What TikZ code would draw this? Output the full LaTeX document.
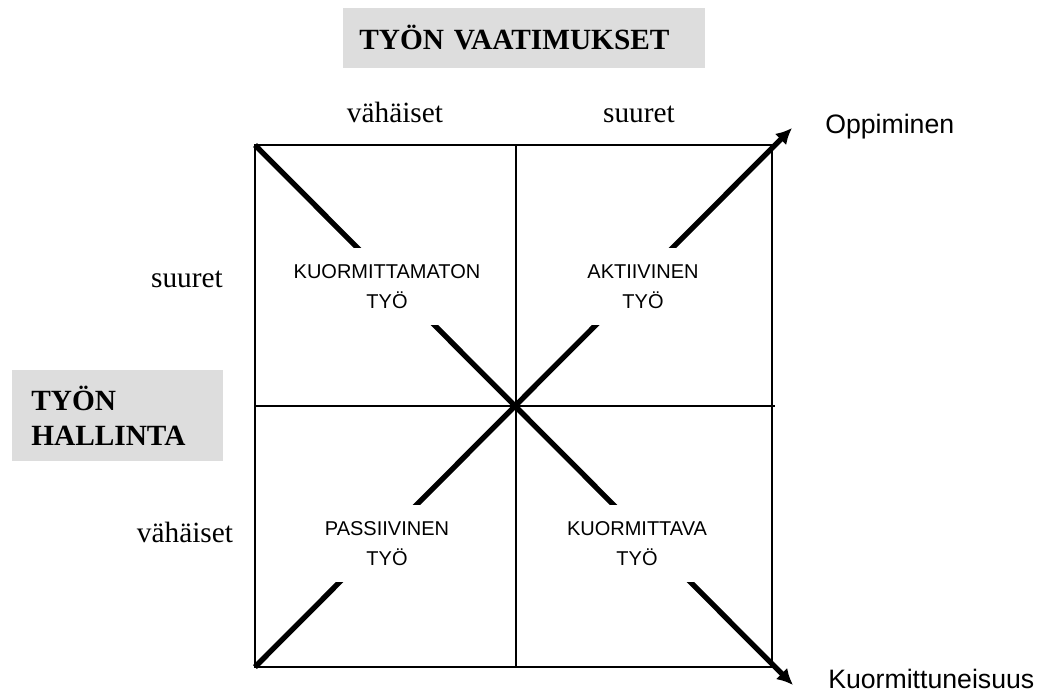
\documentclass[tikz,border=0pt]{standalone}
\usepackage{fontspec}
\setmainfont{Liberation Serif}
\newfontfamily\arialfont{Liberation Sans}
\usetikzlibrary{arrows.meta}
\definecolor{boxgray}{RGB}{221,221,221}

\tikzset{
  frame/.style={line width=1.4pt},
  diag/.style={line width=4pt, -{Latex[length=12pt,width=12pt]}},
  quad/.style={fill=white, align=center, inner xsep=3pt, inner ysep=0pt,
    minimum height=57.75pt, font=\arialfont\fontsize{15}{22.5}\selectfont},
  level/.style={anchor=base, inner sep=0pt, font=\fontsize{22}{26.4}\selectfont},
  titlebox/.style={fill=boxgray, align=left, anchor=west,
    font=\bfseries\fontsize{22}{26.4}\selectfont},
  outcome/.style={anchor=base west, inner sep=0pt,
    font=\arialfont\fontsize{20}{24}\selectfont}
}

\begin{document}
\begin{tikzpicture}[x=0.75pt,y=-0.75pt]
    \useasboundingbox (0,0) rectangle (1048,694);

    % corners of the square
    \coordinate (tl) at (255,145);
    \coordinate (br) at (772,667);
    \coordinate (bl) at (255,667);

    % middle lines
    \coordinate (tm) at (516,145);
    \coordinate (bm) at (516,667);
    \coordinate (ml) at (255,406);
    \coordinate (mr) at (775,406);

    % arrow ends
    \coordinate (opp) at (792,128);
    \coordinate (kuo) at (793,685);

    % Lines
    \draw[frame] (tl) rectangle (br);
    \draw[frame] (tm) -- (bm);
    \draw[frame] (ml) -- (mr);
    \draw[diag] (tl) -- (kuo);
    \draw[diag] (bl) -- (opp);

    % Quadrants
    \node[quad] (kmt) at (387,286.5) {KUORMITTAMATON\\TYÖ};
    \node[quad] (akt) at (643,286.5) {AKTIIVINEN\\TYÖ};
    \node[quad] (pas) at (387,543.5) {PASSIIVINEN\\TYÖ};
    \node[quad] (kva) at (637,543.5) {KUORMITTAVA\\TYÖ};

    % Levels
    \node[level] (vaha1) at (395,122) {vähäiset};
    \node[level] (suur1) at (639,122) {suuret};
    \node[level] (suur2) at (187,287) {suuret};
    \node[level] (vaha2) at (185,542) {vähäiset};

    % Titles
    \node[titlebox, text width=247.5pt, inner xsep=12pt, minimum height=45pt]
        (vaat) at (343,38) {TYÖN VAATIMUKSET};
    \node[titlebox, text width=129.75pt, inner xsep=14.25pt, minimum height=68.25pt]
        (hall) at (12,415.5) {TYÖN\\HALLINTA};

    % Outcomes
    \node[outcome] (oppl) at (825,133) {Oppiminen};
    \node[outcome] (kuol) at (828,688) {Kuormittuneisuus};
\end{tikzpicture}
\end{document}
